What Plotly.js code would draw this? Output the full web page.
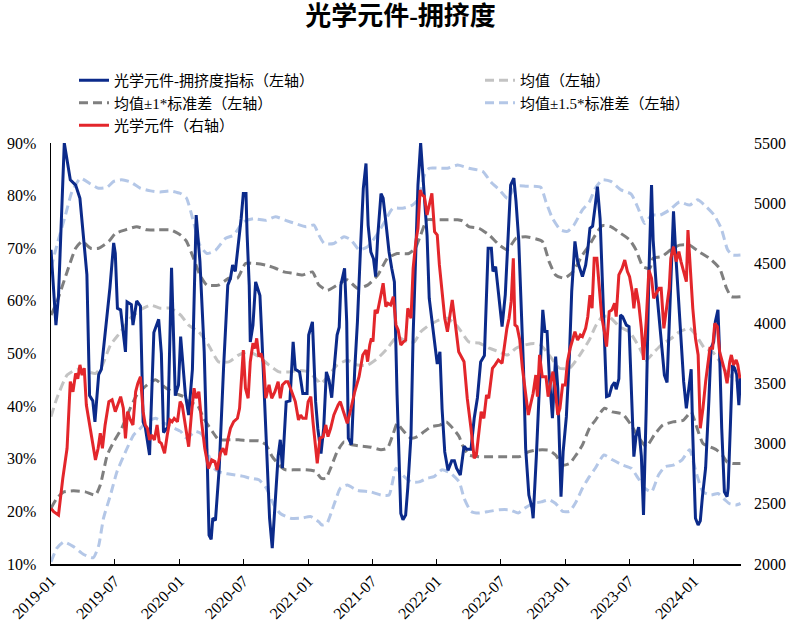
<!DOCTYPE html>
<html>
<head>
<meta charset="utf-8">
<script src="https://cdn.plot.ly/plotly-3.0.1.min.js"></script>
<style>
  html, body { margin: 0; padding: 0; background: #fff; }
  #chart { width: 801px; height: 639px; }
</style>
</head>
<body>
<div id="chart"></div>
<script>
// [months since 2019-01-01, value]; crowding index & bands in %, price index on right axis
var crowding = [
  [0,69.7],[0.46,55.4],[0.7,61],[0.85,70],[1.24,90],[1.8,83],[2.3,82],[2.7,79.5],[3.35,65],[3.6,42],
  [3.9,41],[4.1,37],[4.45,46],[4.7,47],[5.5,62.5],[5.85,71],[6.0,69],[6.2,58.6],[6.5,58.3],[6.95,50.3],
  [7.1,59.8],[7.5,59.3],[7.65,55.4],[8.0,60],[8.35,59],[8.6,37],[8.8,36],[9.2,30.7],[9.6,54],[10.05,56.5],
  [10.3,50],[10.5,35],[10.9,36],[11.25,66.3],[11.6,42],[11.9,44],[12.1,53.2],[12.55,42],[12.85,38.3],[13.2,47],
  [13.55,76.3],[13.9,67.5],[14.3,50.3],[14.6,28.2],[14.75,15.5],[14.95,14.7],[15.1,18.7],[15.35,18.3],[15.7,28.2],[16.1,47],
  [16.5,63],[16.75,64.3],[16.95,66.8],[17.2,65.6],[17.5,70.6],[17.75,75.7],[17.95,80.4],[18.2,80.4],[18.3,72.8],[18.5,63],
  [18.6,52.2],[18.85,55.4],[19.1,63.6],[19.5,61],[19.7,52.2],[20.1,34.5],[20.4,18.7],[20.65,13],[20.95,21.8],[21.2,30.5],
  [21.4,33.6],[21.6,28.2],[21.95,40.8],[22.3,41],[22.6,52.2],[22.8,47],[23.2,46.5],[23.5,42.4],[23.9,42.4],[24.05,53.5],
  [24.4,56],[24.7,40.8],[24.9,35.8],[25.2,31],[25.45,35.8],[25.7,46.5],[25.95,44.9],[26.2,41.6],[26.4,46.5],[26.7,53.5],
  [26.9,55],[27.05,63],[27.4,66.2],[27.6,56],[27.75,33.9],[28.05,32.7],[28.35,47],[28.6,56],[28.9,70.6],[29.15,81.4],
  [29.4,86.1],[29.6,74.4],[29.85,69.3],[30.1,68],[30.3,64.6],[30.5,72.4],[30.8,80.4],[31.0,79.5],[31.25,75],[31.55,69.3],
  [31.8,66.2],[32.05,63.6],[32.3,42.1],[32.5,28.2],[32.65,19.6],[32.85,18.4],[33.1,19.3],[33.3,24.5],[33.6,34.5],[33.8,53.5],
  [34.05,69.3],[34.25,82],[34.5,90],[34.75,83.3],[35.1,72.4],[35.3,60.5],[35.6,55.4],[35.85,51],[36.05,48],[36.3,50.3],
  [36.5,39.5],[36.75,31.3],[37.05,27.8],[37.4,29.6],[37.65,29.6],[37.85,28.2],[38.2,26.9],[38.55,32.4],[38.8,31.8],[39.2,31.8],
  [39.5,37.7],[39.8,41.6],[40.1,48.4],[40.45,49.6],[40.6,59.8],[40.8,70],[41.1,70],[41.25,65.6],[41.5,66.5],[41.75,61.8],
  [42.1,55.1],[42.4,61.2],[42.7,75],[42.9,82],[43.2,83.3],[43.4,78.9],[43.65,71.7],[43.85,61.2],[44.1,47.2],[44.3,32],
  [44.6,23.1],[44.9,20.6],[45.0,18.7],[45.3,30.5],[45.6,43.8],[45.9,58.3],[46.1,54.2],[46.3,54.2],[46.5,46],[46.8,37.7],
  [47.1,49.4],[47.3,43.4],[47.6,22.8],[47.8,31.3],[48.1,38],[48.4,50.3],[48.6,61.8],[48.9,71.3],[49.15,67.5],[49.4,65.6],
  [49.6,64.6],[49.9,66.8],[50.1,69.7],[50.3,73.8],[50.55,74.2],[50.8,78.2],[51.0,81.7],[51.25,75.6],[51.4,66.2],[51.65,53.5],
  [51.85,41.8],[52.1,42],[52.35,43.8],[52.6,44.5],[52.75,43.2],[53.0,45.2],[53.15,57.3],[53.35,57],[53.7,55.4],[53.95,55.1],
  [54.15,43.8],[54.4,30.4],[54.6,34.2],[54.85,36],[55.1,30.5],[55.3,19.3],[55.55,39.2],[55.8,64.9],[56.05,82],[56.2,71.6],
  [56.5,62.5],[56.8,55.4],[57.05,50.3],[57.25,45.9],[57.5,44.5],[57.7,56],[57.95,70.6],[58.1,77],[58.35,67.5],[58.6,59.8],
  [58.8,52.2],[59.05,44.6],[59.3,39.6],[59.5,43.4],[59.75,47],[59.9,34.4],[60.15,18.7],[60.4,17.4],[60.6,18.2],[60.8,22.8],
  [61.1,28.3],[61.4,41],[61.6,51],[61.85,52.2],[62.0,56],[62.25,58.3],[62.4,50.3],[62.6,35.8],[62.85,23.7],[63.1,22.8],
  [63.2,24.4],[63.4,35.8],[63.6,47.8],[63.8,47.2],[64.0,46],[64.2,40.2],[64.35,45.4]
];

var price = [
  [0,2463],[0.25,2435],[0.7,2407],[1.1,2712],[1.5,2962],[1.8,3516],[2.05,3432],[2.3,3585],[2.5,3540],[2.7,3655],
  [2.9,3570],[3.1,3628],[3.3,3322],[3.6,3156],[3.9,2989],[4.15,2865],[4.4,2962],[4.6,3087],[4.8,2962],[5.05,3156],
  [5.4,3350],[5.7,3365],[6.0,3266],[6.2,3310],[6.5,3391],[6.75,3295],[6.95,3045],[7.15,3266],[7.4,3200],[7.65,3156],
  [7.9,3432],[8.1,3500],[8.35,3557],[8.6,3266],[8.8,3156],[9.0,3128],[9.2,3031],[9.4,3073],[9.65,3031],[9.9,3156],
  [10.1,3017],[10.3,3003],[10.6,2920],[10.85,3073],[11.1,3197],[11.3,3183],[11.5,3211],[11.8,3183],[12.05,3350],[12.25,3320],
  [12.55,3156],[12.85,2975],[13.1,3239],[13.35,3461],[13.55,3378],[13.8,3432],[14.05,3183],[14.35,2962],[14.7,2795],[15.0,2865],
  [15.3,2851],[15.5,2781],[15.8,2920],[16.05,2962],[16.3,2906],[16.5,3031],[16.75,3128],[17.05,3183],[17.4,3211],[17.6,3294],
  [17.8,3571],[17.95,3779],[18.15,3461],[18.4,3378],[18.6,3682],[18.85,3835],[19.05,3793],[19.2,3876],[19.4,3724],[19.6,3752],
  [19.85,3668],[20.05,3378],[20.35,3489],[20.6,3378],[20.9,3433],[21.2,3516],[21.4,3378],[21.6,3489],[21.9,3516],[22.1,3516],
  [22.35,3461],[22.6,3405],[22.8,3350],[23.1,3197],[23.3,3239],[23.5,3211],[23.8,3211],[24.0,3350],[24.25,3391],[24.45,3183],
  [24.65,3017],[24.85,2837],[25.1,3045],[25.4,3059],[25.65,3156],[25.85,3059],[26.1,3128],[26.4,3239],[26.8,3322],[27.0,3350],
  [27.3,3266],[27.65,3170],[28.0,3294],[28.35,3432],[28.75,3557],[29.1,3738],[29.4,3779],[29.55,3682],[29.75,3821],[29.9,3876],
  [30.05,3848],[30.25,4112],[30.45,4084],[30.7,4181],[30.85,4264],[31.0,4334],[31.25,4140],[31.45,4168],[31.7,4154],[31.95,4222],
  [32.2,3987],[32.4,3945],[32.65,3821],[32.9,3848],[33.1,3862],[33.3,4126],[33.6,4043],[33.8,4458],[34.05,4680],[34.25,4791],
  [34.45,5109],[34.65,5067],[34.85,5054],[35.1,4901],[35.35,4998],[35.55,5082],[35.8,4763],[36.05,4735],[36.25,4486],[36.5,4236],
  [36.75,4043],[37.0,3931],[37.2,4056],[37.45,4195],[37.75,3987],[38.05,3765],[38.55,3682],[38.85,3378],[39.2,3128],[39.5,2879],
  [39.7,2906],[39.95,3128],[40.15,3266],[40.4,3211],[40.65,3405],[40.85,3378],[41.2,3627],[41.45,3655],[41.75,3696],[42.1,3668],
  [42.3,3821],[42.55,3959],[42.75,4043],[42.95,4181],[43.15,4542],[43.3,3987],[43.5,3973],[43.75,3862],[44.0,3627],[44.25,3432],
  [44.55,3239],[44.75,3322],[45.0,3419],[45.25,3571],[45.4,3391],[45.6,3738],[45.85,3557],[46.2,3557],[46.4,3391],[46.65,3516],
  [46.85,3599],[47.05,3461],[47.3,3239],[47.5,3294],[47.75,3488],[48.0,3488],[48.2,3682],[48.45,3793],[48.7,3876],[48.9,3931],
  [49.15,3862],[49.4,3904],[49.6,3890],[49.9,3959],[50.1,4056],[50.3,4236],[50.5,4126],[50.7,4542],[50.95,4542],[51.15,4347],
  [51.4,4056],[51.65,3931],[51.85,3807],[52.1,4098],[52.35,4112],[52.6,4168],[52.75,4056],[53.0,4403],[53.3,4458],[53.55,4527],
  [53.8,4431],[54.0,4389],[54.25,4264],[54.4,4126],[54.6,4292],[54.85,4168],[55.1,3959],[55.3,3696],[55.55,4015],[55.8,4444],
  [56.05,4375],[56.25,4209],[56.5,4250],[56.75,4292],[56.95,4292],[57.2,3959],[57.45,4126],[57.7,4292],[57.85,4542],[58.1,4638],
  [58.35,4514],[58.6,4597],[58.8,4514],[59.05,4431],[59.3,4347],[59.45,4777],[59.65,4458],[59.9,4126],[60.15,3876],[60.4,3738],
  [60.6,3128],[60.85,3294],[61.1,3516],[61.3,3682],[61.5,3793],[61.75,3793],[61.95,4001],[62.2,3973],[62.4,3765],[62.65,3682],
  [62.9,3599],[63.1,3502],[63.35,3682],[63.5,3738],[63.7,3655],[63.95,3696],[64.1,3655],[64.3,3543]
];

var meanLine = [
  [0,38],[0.55,41.5],[1.5,45.9],[2.45,47],[3.35,46.6],[4.15,46.2],[4.75,47.6],[5.55,51.6],[6.5,54.1],[7.4,56.7],
  [8.35,58.3],[9.3,59.2],[10.2,58.6],[11.15,58.6],[12.1,57.3],[12.85,55.4],[13.8,54.1],[14.7,51.6],[15.65,48.4],[16.6,48.4],
  [17.5,49.7],[18.45,50.3],[19.4,49.4],[20.35,47.8],[21.3,46.5],[22.2,46.5],[23.15,46.8],[24.05,46.5],[25.0,44.6],[25.2,44.3],
  [25.95,45.9],[26.7,47.8],[27.65,48.7],[28.6,47.8],[29.55,47.8],[30.5,49.1],[31.4,51],[32.3,53.2],[33.25,52.2],[33.9,52.2],
  [34.5,54.1],[35.3,55.4],[36.25,56.4],[37.0,56.7],[38.0,55],[39.0,52.2],[39.95,52],[40.9,51],[41.85,50.3],[42.6,49.7],
  [43.4,51],[44.2,51.6],[45.1,51.9],[45.7,51.6],[46.5,49.7],[47.45,47.2],[48.4,47.2],[49.35,49.7],[50.25,52.6],[50.8,55.1],
  [51.45,57],[52.1,57],[53.05,55.1],[54.0,54.1],[54.95,51],[55.55,48.7],[56.3,50.3],[57.1,51.9],[57.85,52.8],[58.65,54.1],
  [59.6,54.8],[60.2,53.5],[61.0,51],[61.75,50.3],[62.65,47.8],[63.3,45.9],[63.9,45],[64.35,45]
];

var upper1 = [
  [0,57.3],[0.55,59.8],[1.5,65.5],[2.3,70],[2.9,71.3],[3.7,70],[4.45,70],[5.4,71.3],[6.0,72.8],[6.95,73.5],
  [8.0,74.1],[8.95,73.5],[10.05,73.5],[11.15,73.5],[12.1,72.5],[12.65,71.3],[13.3,68.1],[13.9,64.9],[14.55,63],[15.65,63],
  [16.6,64.3],[17.4,64.3],[18.15,67.1],[19.1,67.1],[20.05,66.8],[20.95,66.2],[21.75,65.5],[22.7,65.2],[23.45,64.9],[24.4,65.5],
  [25.0,63],[25.8,62],[26.7,63],[27.65,64],[28.6,62.4],[29.55,63],[30.5,64.9],[31.4,68.1],[32.3,69],[33.4,69],
  [34.0,70],[34.5,72.5],[35.1,75.4],[36.05,75.4],[37.0,75.4],[37.95,75.4],[38.4,75.2],[39.0,74.1],[39.95,73.8],[40.9,72.5],
  [41.85,70.6],[42.6,69.7],[43.4,71.9],[44.3,72.2],[45.85,71.3],[46.5,67.4],[47.1,64.9],[47.9,64.3],[48.7,65.5],[49.6,68.7],
  [50.25,70.6],[50.8,72.5],[51.45,74.3],[52.25,74.1],[53.05,73],[54.0,71.6],[54.6,69.7],[55.25,66.5],[55.9,66.2],[56.2,68.1],
  [57.0,68.4],[57.85,69.7],[58.65,70.6],[59.6,70.6],[60.5,69.3],[61.45,68.1],[62.4,66.2],[63.05,62.4],[63.5,60.8],[64.35,60.8]
];

var lower1 = [
  [0,20.6],[0.55,22.5],[1.2,23.7],[2.1,23.9],[3.2,23.7],[4.15,23.1],[4.6,25],[5.25,30.7],[5.85,33.2],[6.6,35.8],
  [7.4,39.6],[8.0,42.1],[8.95,44],[9.75,45],[10.7,43.5],[11.6,42.4],[12.4,41.8],[12.85,40.8],[13.65,40.2],[14.25,37.7],
  [15.05,35.2],[15.65,33.6],[16.6,33.6],[17.5,33.6],[18.45,33.4],[19.4,33.4],[20.05,32.7],[20.65,30.4],[21.3,28.8],[21.9,27.9],
  [22.8,27.9],[23.8,27.9],[24.7,27.6],[25.2,26.3],[25.65,26.3],[26.1,28.2],[26.7,31.3],[27.35,33.2],[28.0,32.7],[28.9,32.4],
  [29.85,32.2],[30.8,31.7],[31.4,32],[31.9,34.5],[32.3,36.7],[32.8,35.5],[33.6,33.9],[34.2,34.2],[34.85,35.2],[35.5,36.1],
  [36.3,36.4],[36.9,37],[37.5,35.8],[38.1,34.2],[38.4,32.6],[39.0,30.7],[39.95,30.4],[40.9,30.4],[41.85,30.4],[42.8,30.4],
  [43.75,30.4],[44.55,31.3],[45.15,31.6],[45.85,31.7],[46.5,31.6],[47.1,30.7],[47.75,28.8],[48.4,29.1],[49.0,30.7],[49.6,32.6],
  [50.25,35.8],[50.8,37.3],[51.65,39.6],[52.4,38.9],[53.35,38.5],[54.15,36.4],[54.8,34.2],[55.55,32.3],[56.3,34.5],[57.1,36.4],
  [58.05,37],[59.0,37.3],[59.75,38.9],[60.2,36.4],[60.85,32.9],[61.45,32.3],[62.1,31.7],[62.65,30.7],[63.1,29.4],[63.6,29.1],[64.35,29.1]
];

var upper15 = [
  [0,66.2],[0.55,70.6],[1.35,76.3],[1.95,80.7],[2.75,83.3],[3.7,82.2],[4.45,81.4],[5.25,81.6],[5.85,82.7],[6.6,83],
  [7.4,82.6],[8.35,81.4],[9.3,80.9],[10.2,80.7],[11.15,80.9],[12.1,80.4],[12.65,79.5],[13.3,75],[13.9,70.6],[14.55,69],
  [15.35,69.6],[16.3,71.9],[17.05,72.5],[17.95,75],[18.9,75.6],[20.05,75.3],[20.95,76],[21.9,75.3],[22.8,74.7],[23.8,74.1],
  [24.55,74.4],[25.0,72.5],[25.5,70.9],[26.4,70.9],[27.35,72.2],[28.0,71.6],[28.75,69.7],[29.55,70.3],[30.3,72.2],[31.05,74.7],
  [31.9,77.6],[32.8,77.6],[33.75,78.2],[34.35,79.5],[34.85,83.9],[35.3,85.2],[36.25,85.2],[37.0,85.2],[37.95,85.8],[39.0,85.2],
  [40.3,84.6],[41.05,82.6],[41.85,81.1],[42.6,79.5],[43.4,81.8],[44.3,81.8],[45.7,81.6],[46.2,78.8],[46.8,75.7],[47.55,73.5],
  [48.2,73.2],[48.8,74.4],[49.6,77.3],[50.25,78.8],[50.8,81.4],[51.45,83],[52.25,82.7],[53.2,81.1],[54.15,80.3],[54.8,77.6],
  [55.4,74.7],[56.05,76.3],[56.85,76.3],[57.75,77.3],[58.65,78.8],[59.6,78.2],[60.35,79.2],[61.15,77.9],[61.9,76.3],[62.55,73.8],
  [63.15,69.7],[63.6,68.7],[64.35,68.7]
];

var lower15 = [
  [0,10.4],[0.55,13],[1.2,14.2],[2.1,13.3],[3.05,11.8],[3.95,11.2],[4.45,13.5],[4.9,18.7],[5.55,23.1],[6.15,27.5],
  [6.95,31.3],[7.7,34.5],[8.35,35.8],[8.95,37],[9.75,37.7],[10.55,36.8],[11.5,35.8],[12.1,35.2],[12.65,33.9],[13.5,35.2],
  [14.1,34.6],[14.7,30.7],[15.35,27.9],[16.0,27.3],[16.9,27],[17.85,26.7],[18.6,26.3],[19.4,26],[20.1,24.4],[20.8,21.2],
  [21.4,19.6],[22.35,18.7],[23.3,18.7],[24.25,19],[25.0,18],[25.3,17.4],[25.75,17.7],[26.4,21.2],[27.0,24.4],[27.65,25],
  [28.6,24],[29.85,23.7],[30.8,23.1],[31.55,23.1],[32.2,28.2],[32.8,26.9],[33.6,25.6],[34.35,25.6],[35.1,26.3],[35.75,26.6],
  [36.5,27.9],[37.25,27.3],[38.1,25.6],[38.55,22.5],[39.2,20],[39.95,19.7],[40.9,20],[41.85,20.3],[42.8,20.3],[43.6,19.7],
  [44.2,20.6],[45.0,21.5],[45.75,21.8],[46.5,22.2],[47.1,21.5],[47.75,20],[48.4,20],[49.0,21.8],[49.6,24.4],[50.25,26.6],
  [50.8,28.2],[51.6,30.7],[52.4,29.8],[53.35,28.8],[54.15,28.2],[54.8,26.3],[55.4,24.4],[56.05,23.7],[56.7,26.9],[57.3,28.5],
  [58.1,28.8],[58.9,29.8],[59.6,31.7],[60.2,27.5],[60.85,23.7],[61.6,23.1],[62.25,23.4],[62.9,22.2],[63.3,21.5],[63.9,21.2],[64.35,21.5]
];

var tickDates = ['2019-01-01','2019-07-01','2020-01-01','2020-07-01','2021-01-01','2021-07-01',
                 '2022-01-01','2022-07-01','2023-01-01','2023-07-01','2024-01-01'];
var tickLabels = ['2019-01','2019-07','2020-01','2020-07','2021-01','2021-07',
                  '2022-01','2022-07','2023-01','2023-07','2024-01'];

var serif = "'Liberation Serif', 'Times New Roman', 'Noto Sans CJK SC', serif";

function toDate(m) {
  var d = new Date(Date.UTC(2019, 0, 1) + m * 30.4375 * 86400000);
  return d.toISOString().slice(0, 16).replace('T', ' ');
}
function xs(arr) { return arr.map(function (p) { return toDate(p[0]); }); }
function ys(arr) { return arr.map(function (p) { return p[1]; }); }

function band(arr, name, color, legend, rank, show) {
  return {
    x: xs(arr), y: ys(arr), type: 'scatter', mode: 'lines', name: name,
    line: {color: color, width: 3, dash: '9px,5px', shape: 'spline', smoothing: 0.5},
    legend: legend, legendrank: rank, showlegend: show, hoverinfo: 'skip'
  };
}

var data = [
  band(upper15, '均值±1.5*标准差（左轴）', '#b4c7e7', 'legend2', 2, true),
  band(lower15, '均值±1.5*标准差（左轴）', '#b4c7e7', 'legend2', 2, false),
  band(upper1, '均值±1*标准差（左轴）', '#7f7f7f', 'legend', 2, true),
  band(lower1, '均值±1*标准差（左轴）', '#7f7f7f', 'legend', 2, false),
  band(meanLine, '均值（左轴）', '#c3c3c3', 'legend2', 1, true),
  {
    x: xs(crowding), y: ys(crowding), type: 'scatter', mode: 'lines',
    name: '光学元件-拥挤度指标（左轴）',
    line: {color: '#0b2a8a', width: 3}, legend: 'legend', legendrank: 1
  },
  {
    x: xs(price), y: ys(price), type: 'scatter', mode: 'lines', yaxis: 'y2',
    name: '光学元件（右轴）',
    line: {color: '#e3262b', width: 3}, legend: 'legend', legendrank: 3
  }
];

var legendFont = {family: serif, size: 15, color: '#000'};

var layout = {
  width: 801,
  height: 639,
  margin: {l: 51, r: 60, t: 143, b: 75, autoexpand: false},
  paper_bgcolor: '#fff',
  plot_bgcolor: '#fff',
  font: {family: serif, color: '#000'},
  title: {
    text: '光学元件-拥挤度',
    font: {family: serif, size: 26, weight: 'bold', color: '#000'},
    xref: 'container', x: 0.5, xanchor: 'center',
    yref: 'container', y: 0.975, yanchor: 'middle'
  },
  xaxis: {
    type: 'date',
    range: [toDate(0), toDate(64.4)],
    tickvals: tickDates,
    ticktext: tickLabels,
    tickangle: -45,
    ticks: 'inside',
    ticklen: 5,
    tickcolor: '#000',
    showline: true,
    linecolor: '#000',
    linewidth: 1.5,
    showgrid: false,
    zeroline: false,
    tickfont: {family: serif, size: 16, color: '#000'}
  },
  yaxis: {
    range: [10, 90],
    dtick: 10,
    ticksuffix: '%',
    showline: true,
    linecolor: '#000',
    linewidth: 1.5,
    ticks: '',
    ticklabelstandoff: 10,
    showgrid: false,
    zeroline: false,
    tickfont: {family: serif, size: 16, color: '#000'}
  },
  yaxis2: {
    range: [2000, 5500],
    dtick: 500,
    overlaying: 'y',
    side: 'right',
    showline: false,
    ticks: '',
    ticklabelstandoff: 12,
    showgrid: false,
    zeroline: false,
    tickfont: {family: serif, size: 16, color: '#000'}
  },
  showlegend: true,
  legend: {
    xref: 'container', x: 74 / 801, xanchor: 'left',
    yref: 'container', y: 1 - 64 / 639, yanchor: 'top',
    orientation: 'v', font: legendFont, bgcolor: 'rgba(0,0,0,0)',
    traceorder: 'normal'
  },
  legend2: {
    xref: 'container', x: 480 / 801, xanchor: 'left',
    yref: 'container', y: 1 - 64 / 639, yanchor: 'top',
    orientation: 'v', font: legendFont, bgcolor: 'rgba(0,0,0,0)',
    traceorder: 'normal'
  }
};

Plotly.newPlot('chart', data, layout, {displayModeBar: false, staticPlot: true});
</script>
</body>
</html>
